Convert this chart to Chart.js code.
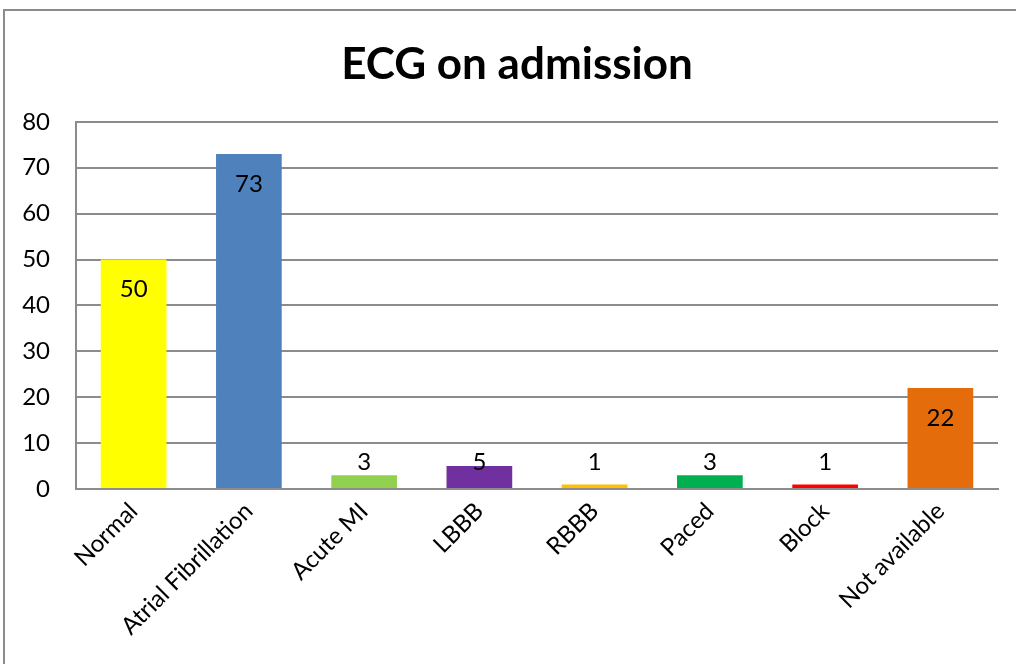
<!DOCTYPE html>
<html>
<head>
<meta charset="utf-8">
<script src="https://cdn.jsdelivr.net/npm/chart.js@4"></script>
<style>
  html, body { margin: 0; padding: 0; background: #fff; }
  #wrap { position: relative; width: 1016px; height: 664px; overflow: hidden; }
  #frame { position: absolute; left: 3px; top: 9px; width: 1100px; height: 800px;
           border-left: 2px solid #8c8c8c; border-top: 2px solid #8c8c8c; }
  #chart1 { position: absolute; left: 0; top: 0; width: 1016px; height: 664px; }
</style>
</head>
<body>
<div id="wrap">
  <div id="frame"></div>
  <div id="chart1"></div>
</div>
<script>
const categories = ["Normal", "Atrial Fibrillation", "Acute MI", "LBBB", "RBBB", "Paced", "Block", "Not available"];
const counts = [50, 73, 3, 5, 1, 3, 1, 22];
const barColors = ["#ffff00", "#4f81bd", "#92d050", "#7030a0", "#ffc000", "#00b050", "#ff0000", "#e46c0a"];
const yTicks = [0, 10, 20, 30, 40, 50, 60, 70, 80];

window.addEventListener('load', () => {
    const chart1 = document.getElementById('chart1');
    const ctx1 = document.createElement('canvas').getContext('2d');
    chart1.appendChild(ctx1.canvas);

    // value labels: inside the top of tall bars, lifted above short ones
    const valueLabels = {
        id: 'valueLabels',
        afterDatasetsDraw(chart) {
            const ctx = chart.ctx;
            const meta = chart.getDatasetMeta(0);
            ctx.save();
            ctx.font = '24px Lato';
            ctx.fillStyle = '#000';
            ctx.textAlign = 'center';
            ctx.textBaseline = 'middle';
            meta.data.forEach((bar, i) => {
                const y = Math.min(bar.y + 30, bar.base - 26);
                ctx.fillText(String(counts[i]), bar.x, y);
            });
            ctx.restore();
        }
    };

    new Chart(ctx1, {
        type: 'bar',
        data: {
            labels: categories,
            datasets: [{
                data: counts,
                backgroundColor: barColors,
                borderWidth: 0,
                barPercentage: 0.57,
                categoryPercentage: 1
            }]
        },
        options: {
            responsive: true,
            maintainAspectRatio: false,
            animation: false,
            layout: { padding: { left: 36, right: 18, top: 30, bottom: 0 } },
            plugins: {
                legend: { display: false },
                tooltip: { enabled: false },
                title: {
                    display: true,
                    text: 'ECG on admission',
                    color: '#000',
                    font: { family: 'Lato', size: 44, weight: 'bold' },
                    padding: { top: 8, bottom: 31 }
                }
            },
            scales: {
                x: {
                    grid: { display: false, drawTicks: false },
                    border: { color: '#8c8c8c', width: 2 },
                    ticks: {
                        color: '#000',
                        font: { family: 'Lato', size: 24 },
                        maxRotation: 45,
                        minRotation: 45,
                        padding: 8,
                        autoSkip: false
                    },
                    afterFit: axis => {
                        axis.paddingLeft = 0;
                        axis.paddingRight = 0;
                        axis.height = 175;
                    }
                },
                y: {
                    min: 0,
                    max: 80,
                    afterBuildTicks: axis => { axis.ticks = yTicks.map(v => ({ value: v })); },
                    grid: { color: '#8c8c8c', lineWidth: 2, drawTicks: false },
                    border: { color: '#8c8c8c', width: 2 },
                    ticks: {
                        color: '#000',
                        font: { family: 'Lato', size: 24 },
                        padding: 26
                    },
                    afterFit: axis => {
                        axis.width = 40;
                        // labels stick out past the narrow axis box, so don't clip them
                        axis._computeLabelArea = () => undefined;
                    }
                }
            }
        },
        plugins: [valueLabels]
    });
});
</script>
</body>
</html>
